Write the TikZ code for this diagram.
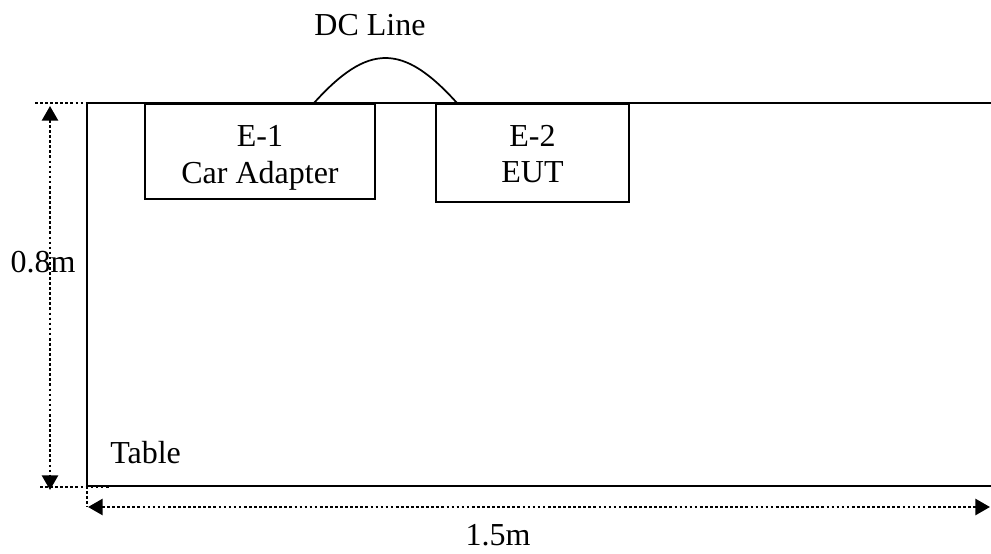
\documentclass[tikz,border=0pt]{standalone}
\usepackage{fontspec}
\setmainfont{Liberation Serif}
\usetikzlibrary{arrows.meta}
\begin{document}
\begin{tikzpicture}[x=0.75pt,y=-0.75pt,
  solidline/.style={line width=1.5pt,black},
  eqbox/.style={draw,line width=1.5pt,inner sep=0pt},
  lbl/.style={inner sep=0pt,font=\fontsize{24}{28}\selectfont},
  dotline/.style={line width=2pt,dash pattern=on 2pt off 1.8pt},
  dimarrow/.style={dotline,{Triangle[width=12pt,length=11pt]}-{Triangle[width=12pt,length=11pt]}}]
\useasboundingbox (0,0) rectangle (991,553);
% table
\coordinate (tl) at (87,103);
\coordinate (bl) at (87,486);
\draw[solidline] (1000,103) -- (tl) -- (bl) -- (1000,486);
% equipment boxes
\node[eqbox,minimum width=172.5pt,minimum height=71.25pt] (e1) at (260,151.5) {};
\node[lbl,anchor=base] (e1a) at (260,146) {E-1};
\node[lbl,anchor=base] (e1b) at (260,183) {Car Adapter};
\node[eqbox,minimum width=144.75pt,minimum height=73.5pt] (e2) at (532.5,153) {};
\node[lbl,anchor=base] (e2a) at (532.5,146.5) {E-2};
\node[lbl,anchor=base] (e2b) at (532.5,182.5) {EUT};
% DC line
\coordinate (c1) at (314,103);
\coordinate (c2) at (457,103);
\draw[line width=1.3pt] (c1) .. controls (368,43) and (403,43) .. (c2);
\node[lbl,anchor=base] (dc) at (370,35) {DC Line};
% labels
\node[lbl,anchor=base west] (tab) at (110,463) {Table};
% dimension lines
\coordinate (tx1) at (35,103);
\coordinate (tx2) at (103,103);
\coordinate (bx1) at (40,487);
\coordinate (bx2) at (110,487);
\draw[dotline] (tx1) -- (tx2);
\draw[dotline] (bx1) -- (bx2);
\coordinate (va) at (50,106);
\coordinate (vb) at (50,490);
\draw[dimarrow] (va) -- (vb);
\coordinate (hb) at (87,507);
\draw[dotline] (bl) -- (hb);
\coordinate (ha) at (88,507);
\coordinate (hc) at (990,507);
\draw[dimarrow] (ha) -- (hc);
\node[lbl,anchor=base] (h08) at (43,272) {0.8m};
\node[lbl,anchor=base] (w15) at (498,545) {1.5m};
\end{tikzpicture}
\end{document}
